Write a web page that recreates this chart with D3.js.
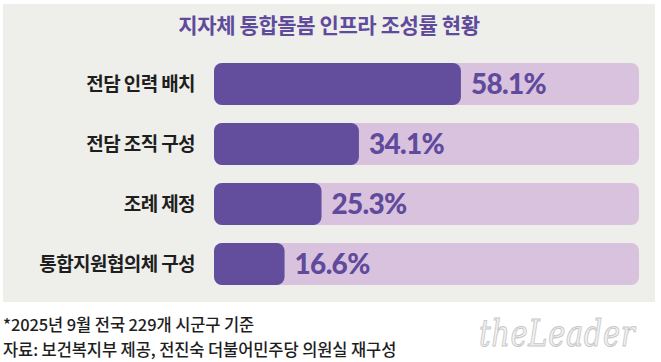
<!DOCTYPE html>
<html><head><meta charset="utf-8">
<script src="https://cdn.jsdelivr.net/npm/d3@7"></script>
<style>
html,body{margin:0;padding:0;background:#fff;}
svg{display:block;}
</style></head>
<body>
<svg id="c" width="661" height="362"></svg>
<script>
const title = "지자체 통합돌봄 인프라 조성률 현황";
const categories = ["전담 인력 배치", "전담 조직 구성", "조례 제정", "통합지원협의체 구성"];
const values = [58.1, 34.1, 25.3, 16.6];
const notes = ["*2025년 9월 전국 229개 시군구 기준", "자료: 보건복지부 제공, 전진숙 더불어민주당 의원실 재구성"];

const svg = d3.select("#c");
const KR = "'Noto Sans CJK KR','Noto Sans',sans-serif";

svg.append("rect").attr("x",3).attr("y",4).attr("width",652).attr("height",298).attr("fill","#eeeeea");

svg.append("text").attr("x",329).attr("y",33).attr("text-anchor","middle")
  .attr("font-family",KR).attr("font-weight",700).attr("font-size",21).attr("letter-spacing","-0.4px")
  .attr("fill","#5f4a9c").text(title);

const x = d3.scaleLinear().domain([0,100]).range([214,639]);
const y = d3.scaleBand().domain(categories).range([54,294]).paddingInner(0.3).paddingOuter(0.15);

const g = svg.append("g");
const rows = g.selectAll("g.row").data(categories.map((c,i)=>({c,v:values[i]}))).join("g");

rows.append("rect").attr("x",x(0)).attr("y",d=>y(d.c)).attr("width",x(100)-x(0)).attr("height",y.bandwidth())
  .attr("rx",8).attr("fill","#d9c2de");
rows.append("rect").attr("x",x(0)).attr("y",d=>y(d.c)).attr("width",d=>x(d.v)-x(0)).attr("height",y.bandwidth())
  .attr("rx",8).attr("fill","#634e9e");
rows.append("text").attr("x",195).attr("y",d=>y(d.c)+y.bandwidth()/2).attr("dy","0.36em")
  .attr("text-anchor","end").attr("font-family",KR).attr("font-weight",700).attr("font-size",19)
  .attr("letter-spacing","-0.6px").attr("fill","#1e1e1e").text(d=>d.c);
rows.append("text").attr("x",d=>x(d.v)+10).attr("y",d=>y(d.c)+y.bandwidth()/2).attr("dy","0.36em")
  .attr("font-family","Lato,'Open Sans',sans-serif").attr("font-weight",900).attr("font-size",28)
  .attr("letter-spacing","-0.7px").attr("fill","#5f4a9c").text(d=>d.v.toFixed(1)+"%");

svg.selectAll("text.note").data(notes).join("text").attr("class","note")
  .attr("x",3).attr("y",(d,i)=>331+i*25).attr("font-family",KR).attr("font-weight",500)
  .attr("font-size",16.5).attr("letter-spacing","-0.1px").attr("fill","#1e1e1e").text(d=>d);

svg.append("text").attr("transform","translate(479,346) scale(1,1.3)")
  .attr("font-family","'DejaVu Serif',serif")
  .attr("font-style","italic").attr("font-size",29).attr("letter-spacing","0.6px")
  .attr("fill","#f2f2f2").attr("stroke","#c8c8c8").attr("stroke-width",0.8)
  .text("theLeader");
</script>
</body></html>
